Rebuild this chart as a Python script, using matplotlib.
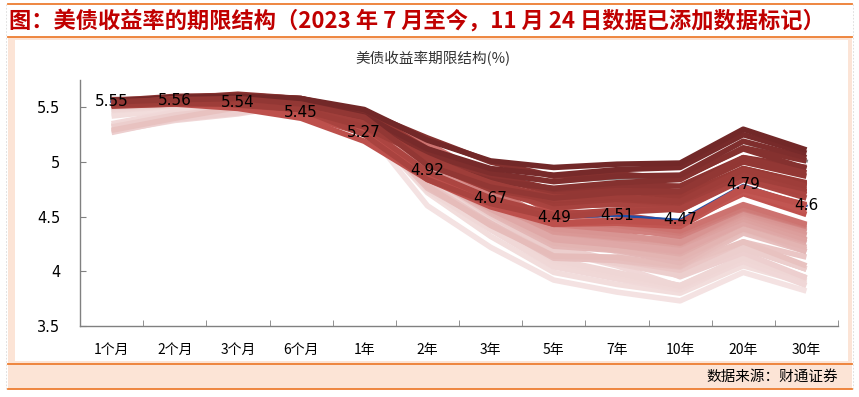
import matplotlib
matplotlib.use("Agg")
import matplotlib.pyplot as plt
import numpy as np
from matplotlib.colors import LinearSegmentedColormap
from matplotlib.patches import Rectangle
from matplotlib.lines import Line2D

plt.rcParams['font.family'] = ['Noto Sans CJK SC', 'DejaVu Sans']

# tenors on the x axis
tenors = ['1个月', '2个月', '3个月', '6个月', '1年', '2年', '3年', '5年', '7年', '10年', '20年', '30年']

# daily curves, July 2023 -> Nov 2023 (%)
jul03 = [5.28, 5.38, 5.44, 5.53, 5.42, 4.94, 4.58, 4.19, 4.05, 3.86, 4.09, 3.87]
jul05 = [5.27, 5.39, 5.45, 5.54, 5.44, 4.96, 4.63, 4.32, 4.18, 3.95, 4.17, 3.94]
jul07 = [5.29, 5.40, 5.50, 5.55, 5.44, 4.94, 4.66, 4.35, 4.23, 4.06, 4.27, 4.05]
jul10 = [5.32, 5.43, 5.49, 5.55, 5.42, 4.86, 4.54, 4.22, 4.10, 3.99, 4.21, 4.02]
jul12 = [5.33, 5.45, 5.47, 5.50, 5.33, 4.74, 4.39, 4.05, 3.94, 3.86, 4.12, 3.94]
jul14 = [5.35, 5.46, 5.48, 5.49, 5.33, 4.75, 4.38, 4.04, 3.93, 3.83, 4.10, 3.93]
jul17 = [5.42, 5.48, 5.49, 5.52, 5.35, 4.72, 4.32, 3.99, 3.88, 3.80, 4.05, 3.89]
jul19 = [5.44, 5.49, 5.50, 5.50, 5.32, 4.60, 4.22, 3.92, 3.81, 3.73, 3.99, 3.82]
jul21 = [5.47, 5.51, 5.52, 5.52, 5.38, 4.84, 4.45, 4.09, 3.96, 3.84, 4.10, 3.91]
jul24 = [5.48, 5.52, 5.53, 5.53, 5.37, 4.86, 4.47, 4.11, 3.99, 3.87, 4.13, 3.93]
jul26 = [5.49, 5.53, 5.52, 5.51, 5.34, 4.85, 4.45, 4.09, 3.97, 3.87, 4.12, 3.94]
jul28 = [5.50, 5.55, 5.54, 5.53, 5.38, 4.88, 4.52, 4.18, 4.07, 3.96, 4.22, 4.02]
jul31 = [5.50, 5.52, 5.55, 5.53, 5.37, 4.88, 4.51, 4.18, 4.09, 3.97, 4.22, 4.02]
aug02 = [5.52, 5.53, 5.53, 5.51, 5.36, 4.88, 4.53, 4.23, 4.19, 4.08, 4.40, 4.18]
aug04 = [5.54, 5.53, 5.54, 5.50, 5.35, 4.78, 4.42, 4.14, 4.13, 4.05, 4.38, 4.20]
aug07 = [5.53, 5.54, 5.55, 5.50, 5.36, 4.76, 4.44, 4.12, 4.10, 4.04, 4.35, 4.18]
aug09 = [5.53, 5.54, 5.55, 5.49, 5.35, 4.80, 4.44, 4.14, 4.10, 4.01, 4.27, 4.13]
aug11 = [5.55, 5.55, 5.55, 5.50, 5.39, 4.89, 4.57, 4.31, 4.24, 4.16, 4.44, 4.26]
aug14 = [5.53, 5.55, 5.56, 5.52, 5.40, 4.97, 4.68, 4.37, 4.28, 4.19, 4.45, 4.28]
aug16 = [5.53, 5.55, 5.52, 5.53, 5.40, 4.97, 4.67, 4.39, 4.34, 4.26, 4.55, 4.39]
aug18 = [5.53, 5.55, 5.50, 5.52, 5.37, 4.92, 4.61, 4.38, 4.33, 4.26, 4.54, 4.38]
aug21 = [5.53, 5.55, 5.55, 5.54, 5.42, 5.00, 4.74, 4.46, 4.42, 4.35, 4.58, 4.42]
aug23 = [5.54, 5.56, 5.52, 5.52, 5.36, 4.97, 4.62, 4.34, 4.25, 4.19, 4.44, 4.28]
aug25 = [5.55, 5.56, 5.52, 5.55, 5.41, 5.05, 4.71, 4.39, 4.31, 4.24, 4.48, 4.29]
aug28 = [5.55, 5.56, 5.55, 5.54, 5.41, 5.03, 4.69, 4.36, 4.28, 4.20, 4.45, 4.28]
aug30 = [5.56, 5.57, 5.55, 5.51, 5.37, 4.88, 4.55, 4.26, 4.20, 4.12, 4.39, 4.22]
sep01 = [5.53, 5.56, 5.54, 5.51, 5.33, 4.87, 4.57, 4.29, 4.24, 4.18, 4.47, 4.29]
sep05 = [5.54, 5.56, 5.57, 5.54, 5.40, 4.96, 4.63, 4.36, 4.32, 4.27, 4.53, 4.36]
sep08 = [5.54, 5.55, 5.52, 5.53, 5.39, 4.98, 4.64, 4.39, 4.33, 4.26, 4.51, 4.33]
sep11 = [5.53, 5.55, 5.53, 5.53, 5.41, 4.99, 4.65, 4.37, 4.31, 4.29, 4.54, 4.37]
sep13 = [5.54, 5.56, 5.54, 5.50, 5.38, 4.97, 4.65, 4.36, 4.30, 4.25, 4.51, 4.33]
sep15 = [5.54, 5.56, 5.55, 5.51, 5.43, 5.02, 4.71, 4.43, 4.38, 4.33, 4.59, 4.42]
sep18 = [5.55, 5.56, 5.54, 5.54, 5.44, 5.05, 4.76, 4.45, 4.40, 4.32, 4.57, 4.41]
sep20 = [5.55, 5.56, 5.54, 5.56, 5.47, 5.17, 4.86, 4.52, 4.45, 4.37, 4.61, 4.43]
sep22 = [5.55, 5.56, 5.53, 5.55, 5.46, 5.10, 4.81, 4.55, 4.52, 4.44, 4.71, 4.52]
sep25 = [5.55, 5.57, 5.55, 5.55, 5.46, 5.10, 4.84, 4.61, 4.62, 4.56, 4.84, 4.67]
sep27 = [5.55, 5.57, 5.55, 5.54, 5.46, 5.10, 4.82, 4.65, 4.66, 4.61, 4.86, 4.73]
sep29 = [5.55, 5.58, 5.55, 5.53, 5.46, 5.03, 4.80, 4.60, 4.61, 4.59, 4.86, 4.73]
oct02 = [5.56, 5.57, 5.55, 5.55, 5.46, 5.12, 4.90, 4.72, 4.73, 4.69, 4.94, 4.81]
oct04 = [5.55, 5.56, 5.61, 5.58, 5.43, 5.05, 4.86, 4.72, 4.77, 4.73, 5.00, 4.87]
oct06 = [5.57, 5.58, 5.62, 5.58, 5.43, 5.08, 4.88, 4.75, 4.79, 4.78, 5.04, 4.95]
oct10 = [5.55, 5.57, 5.58, 5.56, 5.42, 4.99, 4.75, 4.65, 4.68, 4.65, 4.94, 4.80]
oct11 = [5.56, 5.57, 5.58, 5.53, 5.40, 4.98, 4.75, 4.58, 4.62, 4.56, 4.86, 4.70]
oct13 = [5.57, 5.56, 5.59, 5.55, 5.43, 5.05, 4.81, 4.62, 4.66, 4.63, 4.93, 4.79]
oct17 = [5.56, 5.60, 5.61, 5.58, 5.46, 5.22, 5.00, 4.87, 4.89, 4.85, 5.12, 4.94]
oct19 = [5.55, 5.59, 5.60, 5.58, 5.48, 5.20, 5.01, 4.95, 4.98, 4.99, 5.30, 5.11]
oct23 = [5.56, 5.59, 5.59, 5.52, 5.39, 5.05, 4.87, 4.82, 4.85, 4.87, 5.18, 5.01]
oct25 = [5.55, 5.58, 5.59, 5.56, 5.42, 5.12, 4.94, 4.88, 4.93, 4.95, 5.25, 5.08]
oct27 = [5.56, 5.58, 5.59, 5.55, 5.40, 5.00, 4.83, 4.76, 4.81, 4.84, 5.13, 5.01]
oct31 = [5.56, 5.58, 5.59, 5.55, 5.44, 5.07, 4.90, 4.82, 4.87, 4.88, 5.19, 5.04]
nov01 = [5.55, 5.57, 5.58, 5.53, 5.41, 4.97, 4.77, 4.67, 4.72, 4.73, 5.04, 4.90]
nov03 = [5.51, 5.53, 5.53, 5.48, 5.25, 4.84, 4.62, 4.49, 4.54, 4.57, 4.90, 4.77]
nov07 = [5.52, 5.56, 5.54, 5.48, 5.32, 4.91, 4.67, 4.52, 4.56, 4.57, 4.85, 4.72]
nov09 = [5.53, 5.58, 5.52, 5.48, 5.36, 5.02, 4.81, 4.66, 4.69, 4.63, 4.88, 4.75]
nov13 = [5.52, 5.54, 5.53, 5.48, 5.32, 5.04, 4.80, 4.68, 4.68, 4.64, 4.93, 4.78]
nov14 = [5.52, 5.53, 5.49, 5.40, 5.19, 4.84, 4.59, 4.43, 4.47, 4.44, 4.75, 4.61]
nov17 = [5.52, 5.56, 5.54, 5.43, 5.26, 4.89, 4.64, 4.44, 4.46, 4.44, 4.77, 4.60]
nov21 = [5.54, 5.55, 5.53, 5.44, 5.27, 4.88, 4.62, 4.43, 4.44, 4.41, 4.73, 4.55]
# latest curve, labelled
nov24 = [5.55, 5.56, 5.54, 5.45, 5.27, 4.92, 4.67, 4.49, 4.51, 4.47, 4.79, 4.60]

curves = [jul03, jul05, jul07, jul10, jul12, jul14, jul17, jul19, jul21, jul24, jul26, jul28, jul31,
          aug02, aug04, aug07, aug09, aug11, aug14, aug16, aug18, aug21, aug23, aug25, aug28, aug30,
          sep01, sep05, sep08, sep11, sep13, sep15, sep18, sep20, sep22, sep25, sep27, sep29,
          oct02, oct04, oct06, oct10, oct11, oct13, oct17, oct19, oct25, oct27, oct31]
late_curves = [nov01, nov03, nov07, nov09, nov13, nov14, nov17, nov21]

W, H = 859, 397
fig = plt.figure(figsize=(W / 100, H / 100), dpi=100)
fig.patch.set_facecolor('white')

def fx(x):
    return x / W

def fy(y):
    return 1 - y / H

orange = '#ED7D31'
peach = '#FCE4D6'

# frame / bands
fig.patches.append(Rectangle((fx(8), fy(364)), fx(844), (364 - 37) / H, transform=fig.transFigure,
                             facecolor=peach, edgecolor='none', zorder=-2))
fig.patches.append(Rectangle((fx(15), fy(361)), fx(833), (361 - 40) / H, transform=fig.transFigure,
                             facecolor='white', edgecolor='none', zorder=-1))
fig.patches.append(Rectangle((fx(8), fy(389)), fx(844), (389 - 364) / H, transform=fig.transFigure,
                             facecolor=peach, edgecolor='none', zorder=-2))
for yy in [4, 37, 364, 389]:
    fig.lines.append(Line2D([fx(8), fx(852)], [fy(yy), fy(yy)], transform=fig.transFigure,
                            color=orange, lw=1.3))
for xx in [6, 853]:
    fig.lines.append(Line2D([fx(xx), fx(xx)], [fy(4), fy(389)], transform=fig.transFigure,
                            color='#D9D9D9', lw=0.6, ls=(0, (2, 2))))

fig.text(fx(9), fy(21), '图：美债收益率的期限结构（2023 年 7 月至今，11 月 24 日数据已添加数据标记）',
         color='#C00000', fontsize=16, fontweight='bold', ha='left', va='center')
fig.text(fx(838), fy(377), '数据来源：财通证券', color='black', fontsize=10.5, ha='right', va='center')
fig.text(fx(433), fy(59), '美债收益率期限结构(%)', color='#333333', fontsize=10.5, ha='center', va='center')

ax = fig.add_axes([fx(80), fy(326), 758 / W, 246 / H])
ax.set_zorder(2)
ax.set_facecolor('none')
x = np.arange(len(tenors))

# colour each curve by its level at the long end: low = light pink, high = dark red
cmap = LinearSegmentedColormap.from_list(
    'reds', [(0.0, '#F4E2E2'), (0.2, '#ECCDCC'), (0.42, '#DB9C9A'), (0.56, '#C1524E'),
             (0.75, '#9B3B37'), (1.0, '#722828')])
all_curves = curves + late_curves
lvl = np.array([np.mean(c[8:]) for c in all_curves])
lo, hi = lvl.min(), lvl.max()

def col(c):
    return cmap((np.mean(c[8:]) - lo) / (hi - lo))

# one grey curve, mostly hidden under the dark band
ax.plot(x, oct23, color='#8C8C8C', lw=2.2, zorder=1.9)
for c in sorted(curves, key=lambda c: np.mean(c[8:])):
    ax.plot(x, c, color=col(c), lw=4, solid_capstyle='butt', zorder=2)

ax.plot(x, nov24, color='#1F4FA8', lw=1.8, zorder=2.5)
# November curves sit on top of the latest one
for c in sorted(late_curves, key=lambda c: np.mean(c[8:])):
    ax.plot(x, c, color=col(c), lw=4, solid_capstyle='butt', zorder=2.6)

for xi, v in zip(x, nov24):
    ax.text(xi, v, '%g' % v, ha='center', va='center', fontsize=11,
            family=['DejaVu Sans'], color='black', zorder=4)

ax.set_xlim(-0.5, len(tenors) - 0.5)
ax.set_ylim(3.5, 5.75)
ax.set_yticks([3.5, 4, 4.5, 5, 5.5])
ax.set_yticklabels(['3.5', '4', '4.5', '5', '5.5'], family=['DejaVu Sans'], fontsize=10.5)
ax.set_xticks(x)
ax.set_xticklabels(tenors, fontsize=10)
ax.set_xticks(np.arange(len(tenors) + 1) - 0.5, minor=True)
ax.tick_params(axis='x', which='major', length=0, pad=12)
ax.tick_params(axis='x', which='minor', length=4, direction='in', color='#808080')
ax.tick_params(axis='y', length=4, direction='in', color='#808080', pad=14)
for s in ['top', 'right']:
    ax.spines[s].set_visible(False)
for s in ['left', 'bottom']:
    ax.spines[s].set_color('#808080')
    ax.spines[s].set_linewidth(1.0)

fig.savefig('out.png', dpi=100, facecolor='white')
